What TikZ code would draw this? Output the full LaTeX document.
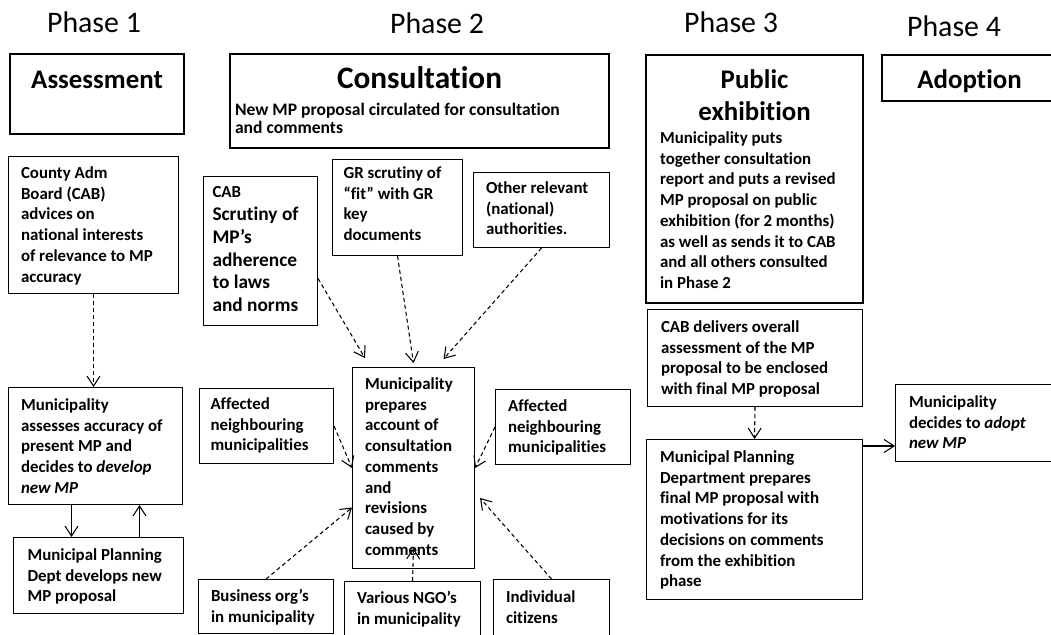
\documentclass[tikz,border=0pt]{standalone}
\usepackage{fontspec}
\setmainfont{Carlito}[Ligatures={NoCommon}]
\usetikzlibrary{arrows.meta,positioning}
\tikzset{
  phaselabel/.style={anchor=base, font=\fontsize{17}{20}\selectfont},
  stagebox/.style={
    draw,
    line width=1.2pt,
    anchor=north west,
    align=flush center,
    inner xsep=0pt,
    inner ysep=0pt,
    font=\bfseries\fontsize{15.3}{18.7}\selectfont
  },
  infobox/.style={
    draw,
    line width=0.6pt,
    anchor=north west,
    align=flush left,
    inner xsep=0.25cm,
    inner ysep=0pt,
    text height=0.44cm,
    font=\bfseries\fontsize{9.6}{11.8}\selectfont
  },
  flow/.style={-{Straight Barb[length=2mm, width=2.6mm]}, line width=0.6pt},
  hint/.style={flow, dash pattern=on 2.3pt off 1.7pt}
}

\begin{document}
\begin{tikzpicture}[x=0.02cm, y=-0.02cm]
\useasboundingbox (0,0) rectangle (1051,635);

% phase headings
\node[phaselabel] (ph1) at (94,33) {Phase 1};
\node[phaselabel] (ph2) at (437,34) {Phase 2};
\node[phaselabel] (ph3) at (731,33) {Phase 3};
\node[phaselabel] (ph4) at (954,37) {Phase 4};

% stage boxes
\node[stagebox, text width=3.48cm, text height=0.68cm, text depth=0.92cm] (assess) at (9,53) {Assessment};
\node[stagebox, align=flush left, inner xsep=0.1cm, text width=7.38cm, text height=0.68cm, text depth=1.20cm] (consult) at (229,53) {{\centering\fontsize{17.8}{21}\selectfont Consultation\par}\vspace{6pt}{\fontsize{10}{9.9}\selectfont New MP proposal circulated for consultation\\and comments\par}};
\node[stagebox, align=flush left, inner xsep=0.28cm, text width=3.78cm, text height=0.66cm, text depth=4.30cm, font=\bfseries\fontsize{9.6}{11.8}\selectfont] (pubex) at (645,54) {{\centering\fontsize{15.3}{18.7}\selectfont Public\\exhibition\par}\vspace{1pt}Municipality puts\\together consultation\\report and puts a revised\\MP proposal on public\\exhibition (for 2 months)\\as well as sends it to CAB\\and all others consulted\\in Phase 2};
\node[stagebox, text width=3.50cm, text height=0.66cm, text depth=0.26cm] (adoption) at (881,54) {Adoption};

% phase 1
\node[infobox, text width=2.90cm, text depth=2.30cm] (county) at (8,156) {County Adm\\Board (CAB)\\advices on\\national interests\\of relevance to MP\\accuracy};
\node[infobox, text width=2.98cm, text height=0.46cm, text depth=1.88cm] (massess) at (8,387) {Municipality\\assesses accuracy of\\present MP and\\decides to \textit{develop}\\\textit{new MP}};
\node[infobox, inner xsep=0.28cm, text width=2.84cm, text height=0.46cm, text depth=1.06cm] (mpdept) at (13,537) {Municipal Planning\\Dept develops new\\MP proposal};

% phase 2
\node[infobox, inner xsep=0.18cm, text width=1.92cm, text height=0.42cm, text depth=2.56cm] (cabscr) at (203,176) {CAB\par{\fontsize{11}{13}\selectfont Scrutiny of\\MP’s\\adherence\\to laws\\and norms\par}};
\node[infobox, inner xsep=0.22cm, text width=2.16cm, text height=0.38cm, text depth=1.54cm] (gr) at (332,159) {GR scrutiny of\\“fit” with GR\\key\\documents};
\node[infobox, text width=2.22cm, text height=0.42cm, text depth=1.08cm] (other) at (473,172) {Other relevant\\(national)\\authorities.};
\node[infobox, inner xsep=0.22cm, text width=2.24cm, text height=0.42cm, text depth=1.08cm] (affl) at (199,388) {Affected\\neighbouring\\municipalities};
\node[infobox, text width=1.94cm, text depth=3.58cm] (center) at (352,367) {Municipality\\prepares\\account of\\consultation\\comments\\and\\revisions\\caused by\\comments};
\node[infobox, text width=2.20cm, text depth=1.06cm] (affr) at (495,389) {Affected\\neighbouring\\municipalities};
\node[infobox, text width=2.20cm, text depth=0.64cm] (business) at (198,579) {Business org’s\\in municipality};
\node[infobox, text width=2.22cm, text depth=0.76cm] (ngo) at (344,581) {Various NGO’s\\in municipality};
\node[infobox, text width=1.82cm, text height=0.46cm, text depth=0.74cm] (indiv) at (493,579) {Individual\\citizens};

% phase 3 and 4
\node[infobox, inner xsep=0.27cm, text width=3.76cm, text height=0.46cm, text depth=1.48cm] (cabdel) at (647,309) {CAB delivers overall\\assessment of the MP\\proposal to be enclosed\\with final MP proposal};
\node[infobox, inner xsep=0.27cm, text width=3.78cm, text height=0.46cm, text depth=2.74cm] (mpfinal) at (646,439) {Municipal Planning\\Department prepares\\final MP proposal with\\motivations for its\\decisions on comments\\from the exhibition\\phase};
\node[infobox, inner xsep=0.27cm, text width=2.66cm, text height=0.46cm, text depth=1.08cm] (adopt) at (895,384) {Municipality\\decides to \textit{adopt}\\\textit{new MP}};

% connectors
\draw[hint] (county.south) -- (county.south |- massess.north);
\draw[flow] ([xshift=-0.48cm]massess.south) -- ([xshift=-0.48cm]massess.south |- mpdept.north);
\draw[flow] ([xshift=0.88cm]massess.south |- mpdept.north) -- ([xshift=0.88cm]massess.south);

\draw[hint] ([yshift=-0.55cm]cabscr.east) -- ([xshift=0.26cm,yshift=0.18cm]center.north west);
\draw[hint] (gr.south) -- ([yshift=0.08cm]center.north);
\draw[hint] (other.south) -- ([xshift=0.6cm,yshift=0.16cm]center.north);
\draw[hint] (affl.east) -- (center.west);
\draw[hint] (affr.west) -- (center.east);
\draw[hint] (business.north) -- ([yshift=-0.79cm]center.west);
\draw[hint] (ngo.north) -- ([yshift=0.42cm]center.south);
\draw[hint] (indiv.north) -- ([xshift=0.1cm,yshift=-0.6cm]center.east);

\draw[hint] (cabdel.south) -- (mpfinal.north);
\draw[flow] ([yshift=-0.14cm]mpfinal.north east) -- ([yshift=-0.14cm]mpfinal.north east -| adopt.west);
\end{tikzpicture}
\end{document}
